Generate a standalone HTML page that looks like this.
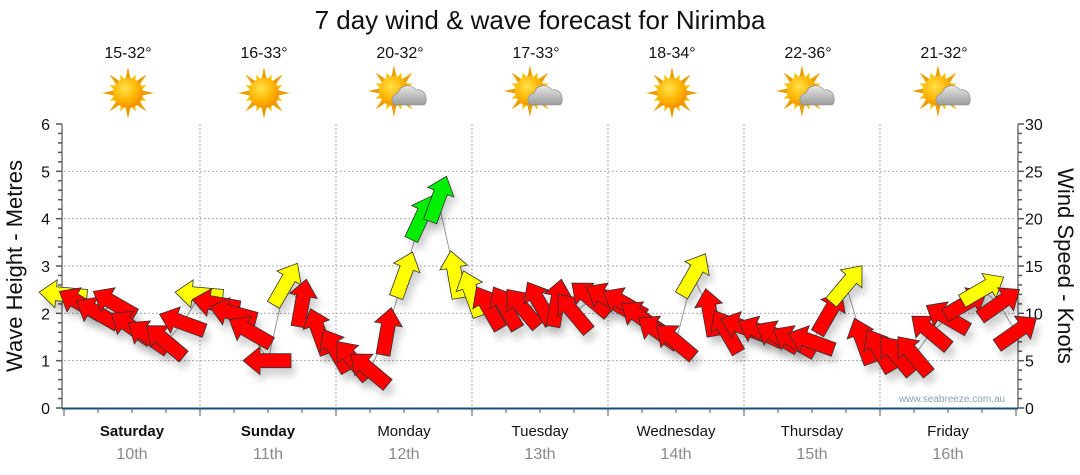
<!DOCTYPE html>
<html><head><meta charset="utf-8"><style>
html,body{margin:0;padding:0;background:#fff;}
svg{display:block;font-family:"Liberation Sans",sans-serif;}
</style></head><body>
<svg id="chart" width="1080" height="475" viewBox="0 0 1080 475">
<defs>
<radialGradient id="sunG" cx="0.4" cy="0.35" r="0.7"><stop offset="0" stop-color="#ffe24a"/><stop offset="0.6" stop-color="#ffb300"/><stop offset="1" stop-color="#f08a00"/></radialGradient>
<linearGradient id="cloudG" x1="0" y1="0" x2="0" y2="1"><stop offset="0" stop-color="#e8e8e8"/><stop offset="1" stop-color="#9a9a9a"/></linearGradient>
<filter id="shadow" x="-50%" y="-50%" width="200%" height="200%"><feGaussianBlur stdDeviation="4"/></filter>
</defs>
<text x="540" y="29" text-anchor="middle" font-size="26" fill="#111">7 day wind &amp; wave forecast for Nirimba</text>
<g id="header"></g>
<g id="grid"></g>
<g id="axes"></g>
<g id="series"></g>
<text x="952" y="402" text-anchor="middle" font-size="10" fill="#8aa0b8">www.seabreeze.com.au</text>
<text transform="translate(22,266) rotate(-90)" text-anchor="middle" font-size="22" fill="#111">Wave Height - Metres</text>
<text transform="translate(1058,266) rotate(90)" text-anchor="middle" font-size="22" fill="#111">Wind Speed - Knots</text>
</svg>
<script>
const days = ["Saturday","Sunday","Monday","Tuesday","Wednesday","Thursday","Friday"];
const dates = ["10th","11th","12th","13th","14th","15th","16th"];
const temps = ["15-32°","16-33°","20-32°","17-33°","18-34°","22-36°","21-32°"];
const cloudy = [false,false,true,true,false,true,true];
const waveTicks = [0,1,2,3,4,5,6];
const windTicks = [0,5,10,15,20,25,30];
// 3-hourly wind speed (knots) and arrow heading (deg, 0 = up, 90 = right)
const windSpeed = [12,11,10,11,8.5,7.5,7,9, 12,11,10,8,5,13,11,8, 6,5,4,8,14,20,22,14, 12,10.5,10.5,10.5,11,11,10,11.5, 11.5,11,9.5,8,7,14,10,8, 8.5,8,7.5,7,7,10,13,7, 6,5.5,5.5,8,9.5,11,12.5,11,8];
const windDir = [275,300,300,300,305,305,310,290, 275,280,285,300,270,30,10,340, 330,320,310,10,20,25,20,350, 340,330,330,320,330,10,320,310, 300,300,305,305,310,30,350,330, 290,295,300,300,290,30,40,340, 330,320,320,310,300,60,60,55,55];

const NS="http://www.w3.org/2000/svg";
function mk(tag,attrs,parent){const e=document.createElementNS(NS,tag);for(const k in attrs)e.setAttribute(k,attrs[k]);parent.appendChild(e);return e;}
const X0=64,X1=1016,Y0=408,Y1=124;
const dayW=(X1-X0)/7;
function xT(h){return X0+h*dayW/24;}
function yWave(m){return Y0-(Y0-Y1)*m/6;}
function yWind(k){return Y0-(Y0-Y1)*k/30;}

const header=document.getElementById('header');
const grid=document.getElementById('grid');
const axes=document.getElementById('axes');
const series=document.getElementById('series');

temps.forEach((t,i)=>{
  const cx=X0+dayW*(i+0.5)-4;
  const tx=mk('text',{x:cx,y:58,'text-anchor':'middle','font-size':16,fill:'#111'},header);
  tx.textContent=t;
  
  
  const g=mk('g',{},header);
  
  
  const sx=cloudy[i]?cx-6:cx, sy=cloudy[i]?91:93;
  for(let r=0;r<16;r++){
    const a=r*Math.PI/8, L=(r%2?20:26);
    const p=[[sx+Math.cos(a)*L,sy+Math.sin(a)*L],[sx+Math.cos(a+0.22)*13,sy+Math.sin(a+0.22)*13],[sx+Math.cos(a-0.22)*13,sy+Math.sin(a-0.22)*13]];
    mk('polygon',{points:p.map(q=>q.join(',')).join(' '),fill:r%2?'#f5c400':'#e8a000'},g);
  }
  mk('circle',{cx:sx,cy:sy,r:15,fill:'url(#sunG)'},g);
  if(cloudy[i]){
    mk('path',{d:`M${cx-6},${sy+14} a7,7 0 0 1 4,-12 a10,10 0 0 1 18,-3 a8,8 0 0 1 10,8 a6,6 0 0 1 -2,7 z`,fill:'url(#cloudG)',stroke:'#888','stroke-width':0.6},g);
  }
});

waveTicks.forEach(v=>{ if(v>0&&v<6) mk('line',{x1:X0,x2:X1,y1:yWave(v),y2:yWave(v),stroke:'#aaa','stroke-dasharray':'2,2','stroke-width':1},grid); });
for(let d=1;d<7;d++){const x=X0+d*dayW;mk('line',{x1:x,x2:x,y1:Y1,y2:Y0,stroke:'#aaa','stroke-dasharray':'2,2','stroke-width':1},grid);}

mk('line',{x1:X0-2,x2:X0-2,y1:Y1,y2:Y0,stroke:'#333','stroke-width':1},axes);
for(let m=0;m<=30;m++){const y=Y0-(Y0-Y1)*m/30;mk('line',{x1:X0-2-(m%5?4:6),x2:X0-2,y1:y,y2:y,stroke:'#555','stroke-width':1.5},axes);}
waveTicks.forEach(v=>{const t=mk('text',{x:50,y:yWave(v)+6,'text-anchor':'end','font-size':16,fill:'#111'},axes);t.textContent=v;
  });
mk('line',{x1:X1+2,x2:X1+2,y1:Y1,y2:Y0,stroke:'#333','stroke-width':1},axes);
for(let k=0;k<=30;k++){const y=yWind(k);mk('line',{x1:X1+2,x2:X1+2+(k%5?4:6),y1:y,y2:y,stroke:'#555','stroke-width':1.5},axes);}
windTicks.forEach(v=>{const t=mk('text',{x:1025,y:yWind(v)+6,'font-size':16,fill:'#111'},axes);t.textContent=v;
  });
mk('line',{x1:X0-2,x2:X1+2,y1:Y0+0.5,y2:Y0+0.5,stroke:'#1b4f7a','stroke-width':2},axes);
for(let h=0;h<=168;h+=6){const x=xT(h);mk('line',{x1:x,x2:x,y1:Y0,y2:Y0+(h%24?5:8),stroke:'#555','stroke-width':1},axes);}
days.forEach((d,i)=>{const cx=X0+dayW*(i+0.5);
  const t=mk('text',{x:cx,y:436,'text-anchor':'middle','font-size':15,fill:'#111','font-weight':i<2?'bold':'normal'},axes);t.textContent=d;
  
  const t2=mk('text',{x:cx,y:459,'text-anchor':'middle','font-size':16,fill:'#888'},axes);t2.textContent=dates[i];
  });

const pts=windSpeed.map((s,i)=>[xT(i*3),yWind(s)]);
mk('polyline',{points:pts.map(p=>p.join(',')).join(' '),fill:'none',stroke:'#999','stroke-width':1},series);
const arrowPts="0,-25 14,-8 7,-8 7,23 -7,23 -7,-8 -14,-8";
windSpeed.forEach((s,i)=>{
  const [x,y]=pts[i];
  mk('polygon',{points:arrowPts,fill:'#000',opacity:0.18,filter:'url(#shadow)',transform:`translate(${x+4},${y+8}) rotate(${windDir[i]})`},series);
});
windSpeed.forEach((s,i)=>{
  const [x,y]=pts[i];
  const col=s>=17?'#00ee00':(s>=12?'#ffff00':'#ff0000');
  const a=mk('polygon',{points:arrowPts,fill:col,stroke:'#333','stroke-width':0.8,transform:`translate(${x},${y}) rotate(${windDir[i]})`},series);
  
  
});
</script>
</body></html>
